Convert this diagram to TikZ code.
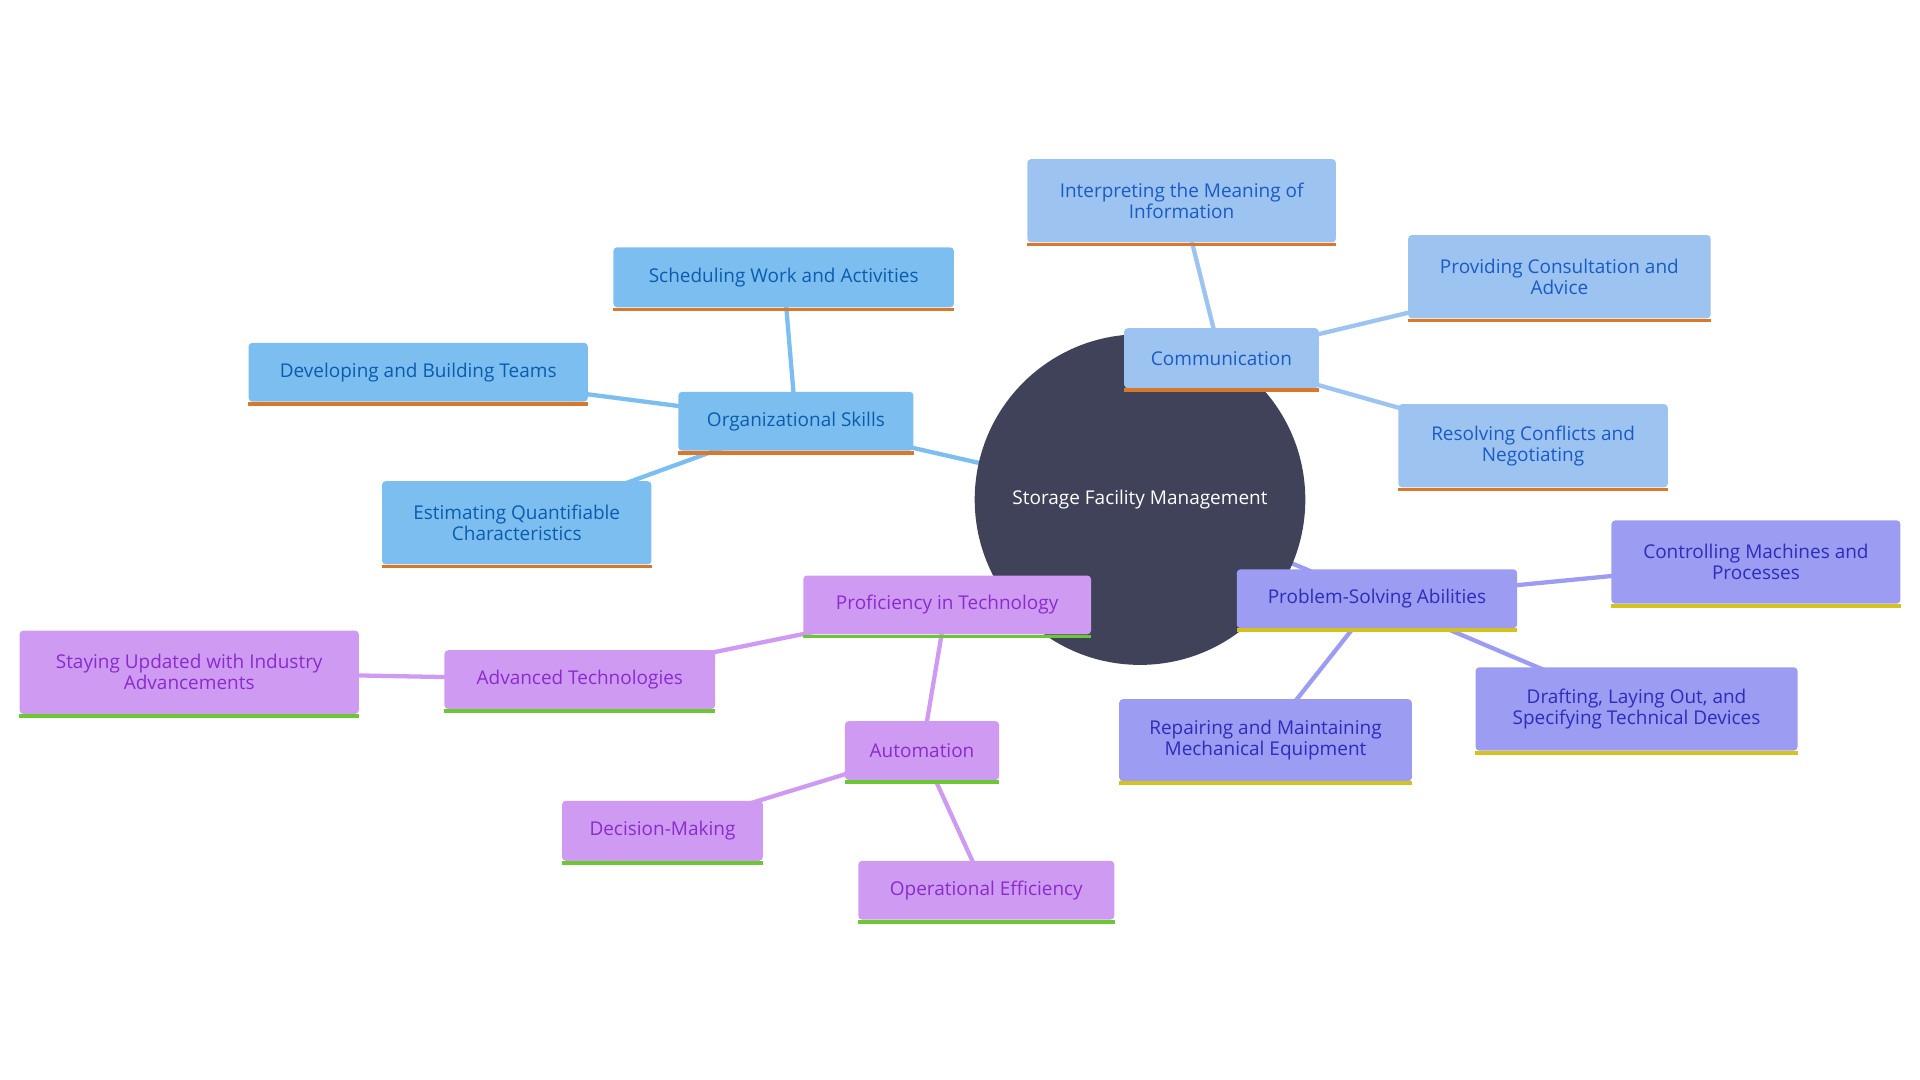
\documentclass[tikz,border=0pt]{standalone}
\usepackage{fontspec}
\setmainfont{Open Sans}
\definecolor{ctr}{HTML}{404259}
\definecolor{orgf}{HTML}{7DBEF0}\definecolor{orgt}{HTML}{0B5CAD}\definecolor{orge}{HTML}{7DBEF0}
\definecolor{comf}{HTML}{9DC3F0}\definecolor{comt}{HTML}{1A5BC4}\definecolor{come}{HTML}{9DC3F0}
\definecolor{prf}{HTML}{9B9CF2}\definecolor{prt}{HTML}{2D2DB8}\definecolor{pre}{HTML}{9B9CF2}
\definecolor{tef}{HTML}{CF9BF2}\definecolor{tet}{HTML}{8A2BCC}\definecolor{tee}{HTML}{CF9BF2}
\definecolor{orb}{HTML}{D9782B}\definecolor{ylb}{HTML}{D4C21F}\definecolor{grb}{HTML}{6CC832}
\tikzset{box/.style={rectangle,rounded corners=3pt,inner sep=0pt,align=center,font=\fontsize{15.5}{17}\selectfont},
 edge/.style={line width=3.5pt}}
% \bx{name}{x1}{y1}{x2}{y2}{fill}{text}{border}{label}
\newcommand{\bx}[9]{%
 \node[box,fill=#6,text=#7,minimum width={#4-#2},minimum height={#5-#3}] (#1) at ({(#2+#4)/2},{(#3+#5)/2}) {#9};
 \draw[#8,line width=3pt] ([yshift=-1.5]#1.south west) -- ([yshift=-1.5]#1.south east);}
\begin{document}
\begin{tikzpicture}[x=1pt,y=-1pt]
\useasboundingbox (0,0) rectangle (1568,882);
\coordinate (c) at (931,408);
\coordinate (o) at (650,344);\coordinate (s) at (640,226);\coordinate (d) at (341,304);\coordinate (e) at (422,427);
\coordinate (m) at (997,292);\coordinate (i) at (965,164);\coordinate (p) at (1273,226);\coordinate (r) at (1252,364);
\coordinate (q) at (1124,489);\coordinate (k) at (1434,459);\coordinate (f) at (1336,579);\coordinate (g) at (1033,604);
\coordinate (t) at (773,494);\coordinate (a) at (473,555);\coordinate (u) at (154,549);\coordinate (w) at (753,613);
\coordinate (h) at (541,678);\coordinate (v) at (805,727);
\draw[edge,orge] (c)--(o) (o)--(s) (o)--(d) (o)--(e);
\draw[edge,come] (c)--(m) (m)--(i) (m)--(p) (m)--(r);
\draw[edge,pre] (c)--(q) (q)--(k) (q)--(f) (q)--(g);
\draw[edge,tee] (c)--(t) (t)--(a) (a)--(u) (t)--(w) (w)--(h) (w)--(v);
\node[circle,fill=ctr,minimum size=270pt,inner sep=0pt,text=white,font=\fontsize{15.5}{17}\selectfont] (C) at (c) {Storage Facility Management};
\bx{O}{554}{320}{746}{368}{orgf}{orgt}{orb}{Organizational Skills}
\bx{S}{501}{202}{779}{251}{orgf}{orgt}{orb}{Scheduling Work and Activities}
\bx{D}{203}{280}{480}{328}{orgf}{orgt}{orb}{Developing and Building Teams}
\bx{E}{312}{393}{532}{461}{orgf}{orgt}{orb}{Estimating Quantifiable\\Characteristics}
\bx{M}{918}{268}{1077}{317}{comf}{comt}{orb}{Communication}
\bx{I}{839}{130}{1091}{198}{comf}{comt}{orb}{Interpreting the Meaning of\\Information}
\bx{P}{1150}{192}{1397}{260}{comf}{comt}{orb}{Providing Consultation and\\Advice}
\bx{R}{1142}{330}{1362}{398}{comf}{comt}{orb}{Resolving Conflicts and\\Negotiating}
\bx{Q}{1010}{465}{1239}{513}{prf}{prt}{ylb}{Problem-Solving Abilities}
\bx{K}{1316}{425}{1552}{493}{prf}{prt}{ylb}{Controlling Machines and\\Processes}
\bx{F}{1205}{545}{1468}{613}{prf}{prt}{ylb}{Drafting, Laying Out, and\\Specifying Technical Devices}
\bx{G}{914}{571}{1153}{638}{prf}{prt}{ylb}{Repairing and Maintaining\\Mechanical Equipment}
\bx{T}{656}{470}{891}{518}{tef}{tet}{grb}{Proficiency in Technology}
\bx{A}{363}{531}{584}{579}{tef}{tet}{grb}{Advanced Technologies}
\bx{U}{16}{515}{293}{583}{tef}{tet}{grb}{Staying Updated with Industry\\Advancements}
\bx{W}{690}{589}{816}{637}{tef}{tet}{grb}{Automation}
\bx{H}{459}{654}{623}{703}{tef}{tet}{grb}{Decision-Making}
\bx{V}{701}{703}{910}{751}{tef}{tet}{grb}{Operational Efficiency}
\end{tikzpicture}
\end{document}
